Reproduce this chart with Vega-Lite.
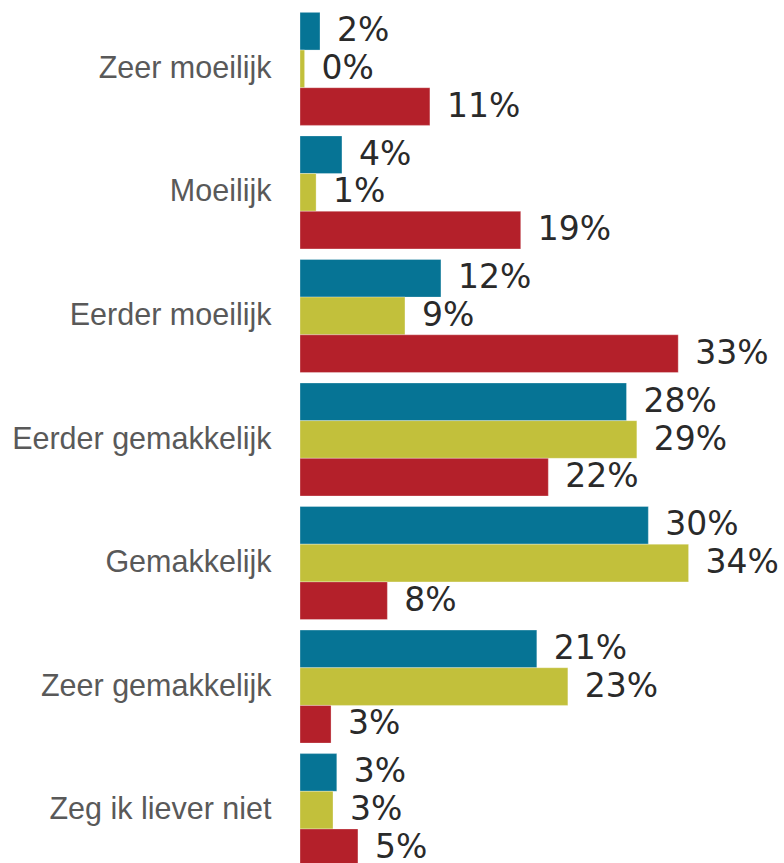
{
  "$schema": "https://vega.github.io/schema/vega-lite/v6.json",
  "width": 484,
  "height": 879,
  "autosize": "none",
  "padding": {"left": 300, "top": 0, "right": 0, "bottom": 0},
  "background": "white",
  "config": {"view": {"stroke": null}},
  "data": {
    "values": [
      {"cat": "Zeer moeilijk", "series": "Serie 1", "v": 0.0174},
      {"cat": "Zeer moeilijk", "series": "Serie 2", "v": 0.004},
      {"cat": "Zeer moeilijk", "series": "Serie 3", "v": 0.113},
      {"cat": "Moeilijk", "series": "Serie 1", "v": 0.0365},
      {"cat": "Moeilijk", "series": "Serie 2", "v": 0.014},
      {"cat": "Moeilijk", "series": "Serie 3", "v": 0.192},
      {"cat": "Eerder moeilijk", "series": "Serie 1", "v": 0.1226},
      {"cat": "Eerder moeilijk", "series": "Serie 2", "v": 0.0913},
      {"cat": "Eerder moeilijk", "series": "Serie 3", "v": 0.329},
      {"cat": "Eerder gemakkelijk", "series": "Serie 1", "v": 0.284},
      {"cat": "Eerder gemakkelijk", "series": "Serie 2", "v": 0.293},
      {"cat": "Eerder gemakkelijk", "series": "Serie 3", "v": 0.216},
      {"cat": "Gemakkelijk", "series": "Serie 1", "v": 0.303},
      {"cat": "Gemakkelijk", "series": "Serie 2", "v": 0.338},
      {"cat": "Gemakkelijk", "series": "Serie 3", "v": 0.076},
      {"cat": "Zeer gemakkelijk", "series": "Serie 1", "v": 0.206},
      {"cat": "Zeer gemakkelijk", "series": "Serie 2", "v": 0.233},
      {"cat": "Zeer gemakkelijk", "series": "Serie 3", "v": 0.027},
      {"cat": "Zeg ik liever niet", "series": "Serie 1", "v": 0.032},
      {"cat": "Zeg ik liever niet", "series": "Serie 2", "v": 0.0287},
      {"cat": "Zeg ik liever niet", "series": "Serie 3", "v": 0.0504}
    ]
  },
  "encoding": {
    "y": {
      "field": "cat",
      "type": "nominal",
      "sort": ["Zeer moeilijk", "Moeilijk", "Eerder moeilijk", "Eerder gemakkelijk", "Gemakkelijk", "Zeer gemakkelijk", "Zeg ik liever niet"],
      "scale": {"paddingInner": 0.085, "paddingOuter": 0.1},
      "axis": {
        "title": null,
        "domain": false,
        "ticks": false,
        "labelPadding": 29,
        "labelFontSize": 30.5,
        "labelFont": "Liberation Sans",
        "labelColor": "#595959",
        "labelLimit": 400
      }
    },
    "yOffset": {
      "field": "series",
      "type": "nominal",
      "sort": ["Serie 1", "Serie 2", "Serie 3"],
      "scale": {"paddingInner": 0, "paddingOuter": 0}
    },
    "x": {
      "field": "v",
      "type": "quantitative",
      "scale": {"domain": [0, 0.421], "nice": false},
      "axis": null
    }
  },
  "layer": [
    {
      "mark": {"type": "bar", "stroke": "white", "strokeWidth": 0.5, "strokeOpacity": 0.6},
      "encoding": {
        "color": {
          "field": "series",
          "type": "nominal",
          "scale": {"domain": ["Serie 1", "Serie 2", "Serie 3"], "range": ["#067495", "#C2C03B", "#B4202A"]},
          "legend": null
        }
      }
    },
    {
      "mark": {"type": "text", "align": "left", "baseline": "middle", "dx": 17, "font": "DejaVu Sans", "fontSize": 33, "color": "#2a2a2a"},
      "encoding": {
        "text": {"field": "v", "type": "quantitative", "format": ".0%"}
      }
    }
  ]
}
